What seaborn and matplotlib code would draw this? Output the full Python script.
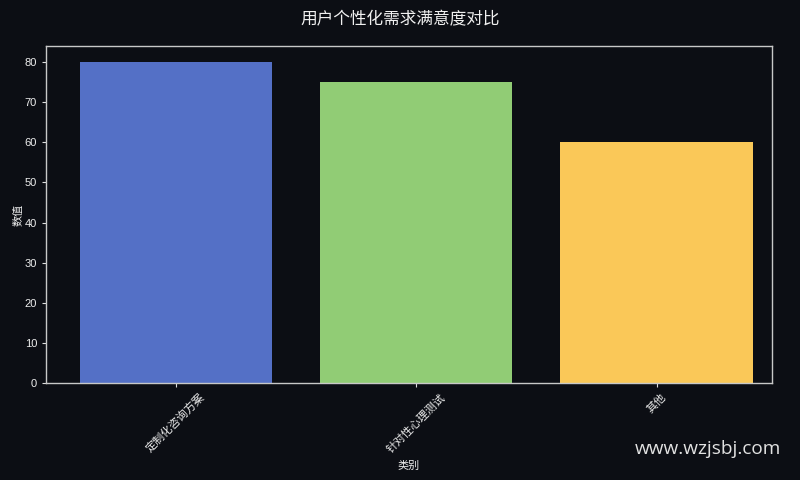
import matplotlib
matplotlib.use("Agg")
import matplotlib.pyplot as plt
import seaborn as sns
import pandas as pd

categories = ["定制化咨询方案", "针对性心理测试", "其他"]
values = [80, 75, 60]
colors = ["#5470c6", "#91cc75", "#fac858"]

bg = "#0c0e14"
sns.set_theme(style="dark")
plt.rcParams["font.family"] = ["Liberation Sans", "Noto Sans CJK SC", "DejaVu Sans"]
plt.rcParams["axes.unicode_minus"] = False

df = pd.DataFrame({"类别": categories, "数值": values})

fig = plt.figure(figsize=(8, 4.8), dpi=100, facecolor=bg)
ax = fig.add_axes([0.0575, 0.202, 0.9075, 0.702])
ax.set_facecolor(bg)
sns.barplot(data=df, x="类别", y="数值", hue="类别", palette=colors,
            legend=False, ax=ax, width=0.8, linewidth=0, saturation=1)
ax.set_xlim(-0.54, 2.48)
ax.set_ylim(0, 84)
ax.grid(False)
for s in ax.spines.values():
    s.set_visible(True)
    s.set_color("#c8c8c8")
    s.set_linewidth(1.0)
ax.tick_params(axis="both", colors="#dddddd", labelcolor="#eeeeee", labelsize=8,
               length=3, width=0.8, bottom=True, left=True)
plt.setp(ax.get_xticklabels(), rotation=45, ha="center")
ax.set_xlabel("类别", color="#eeeeee", fontsize=8)
ax.set_ylabel("数值", color="#eeeeee", fontsize=8, labelpad=1)
fig.suptitle("用户个性化需求满意度对比", color="#f0f0f0", fontsize=12, y=0.976)
fig.text(0.793, 0.064, "www.wzjsbj.com", color="#e2e2e2", fontsize=13.7,
         family=["Open Sans", "DejaVu Sans"], ha="left", va="center")
fig.savefig("out.png", dpi=100, facecolor=bg)
